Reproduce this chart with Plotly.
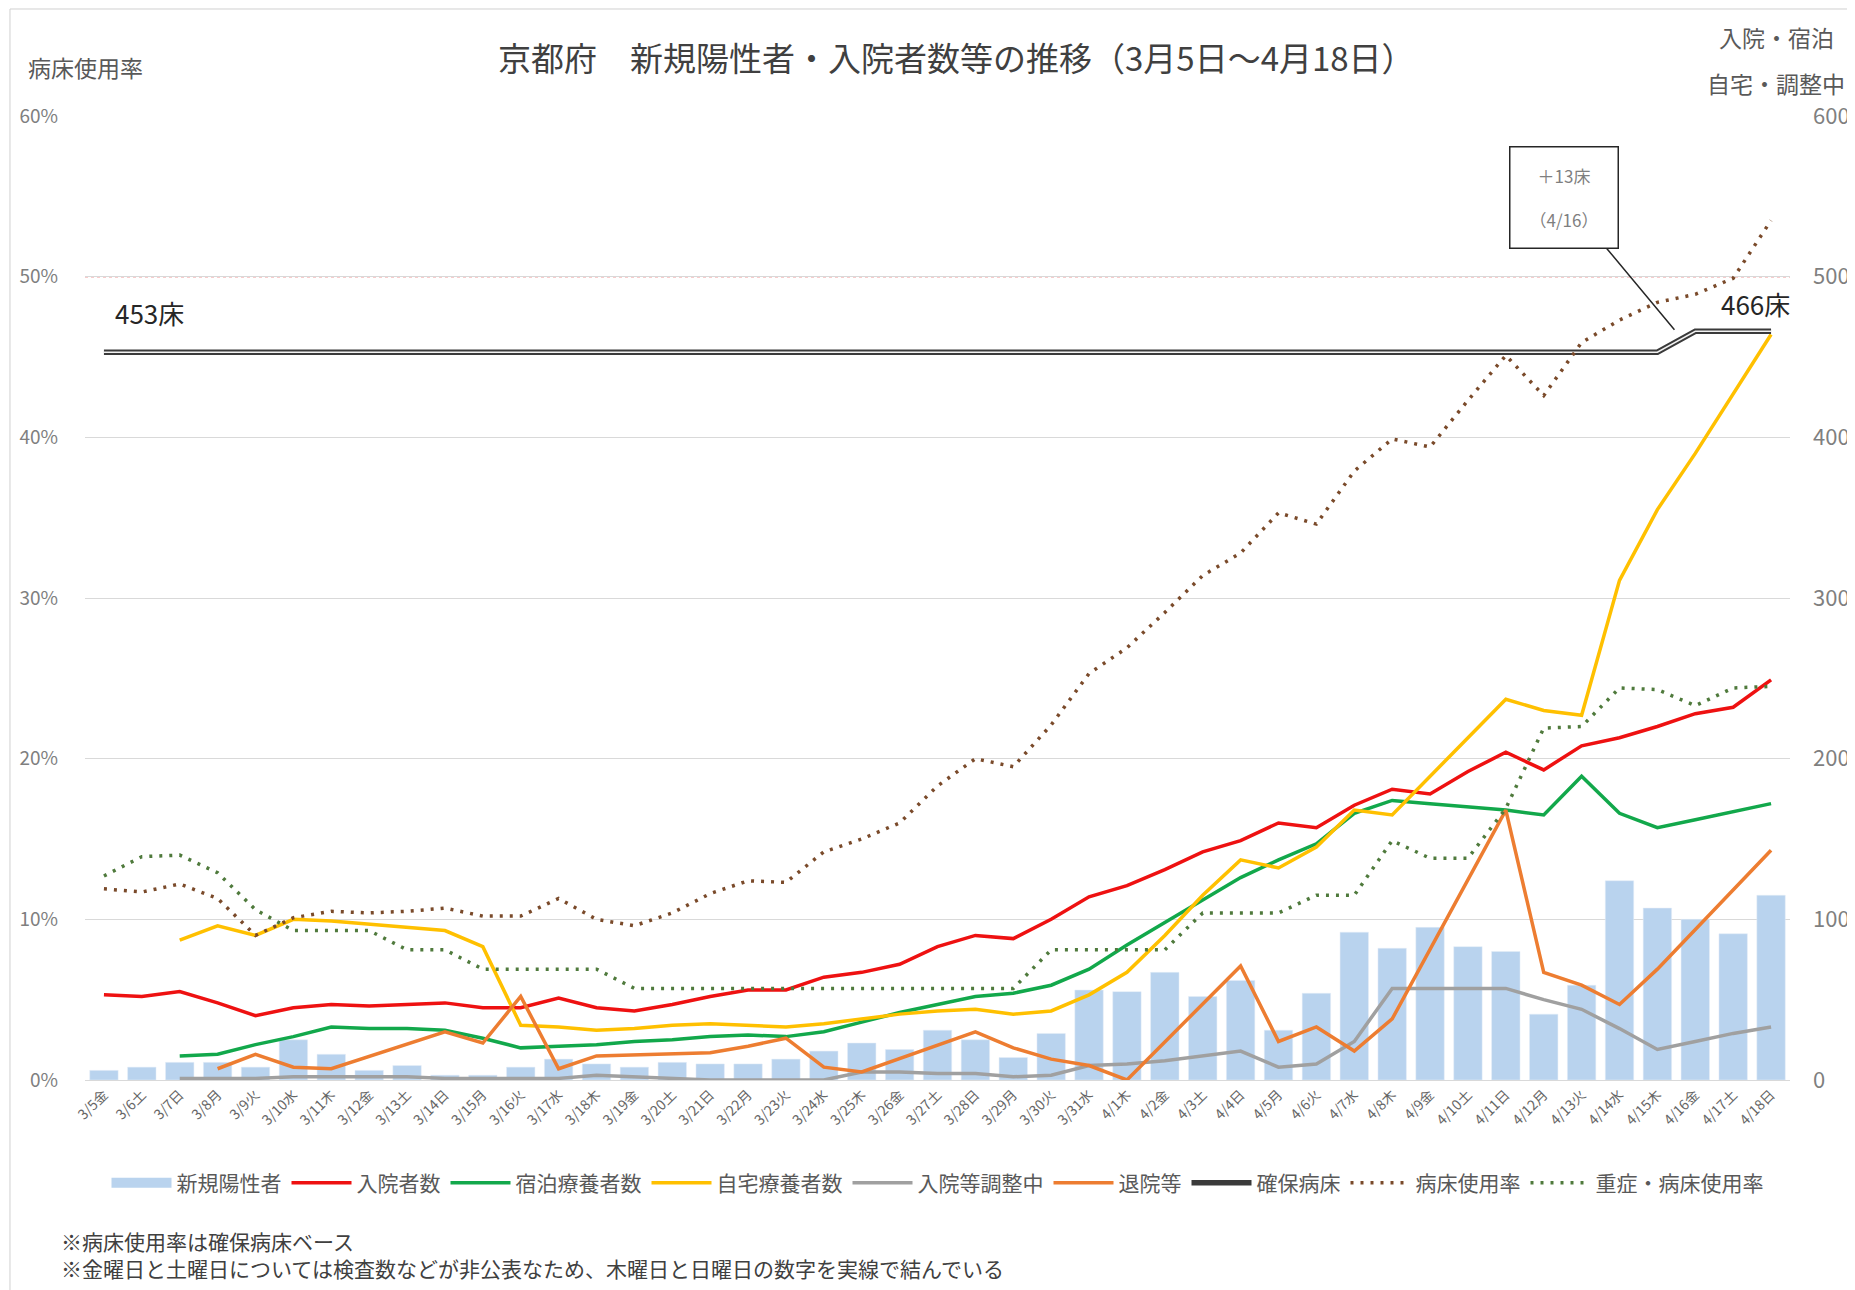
import plotly.graph_objects as go

FONT = "Noto Sans CJK JP"

# 日付ラベル (3/5 ~ 4/18)
days = ["3/5金", "3/6土", "3/7日", "3/8月", "3/9火", "3/10水", "3/11木", "3/12金",
        "3/13土", "3/14日", "3/15月", "3/16火", "3/17水", "3/18木", "3/19金", "3/20土",
        "3/21日", "3/22月", "3/23火", "3/24水", "3/25木", "3/26金", "3/27土", "3/28日",
        "3/29月", "3/30火", "3/31水", "4/1木", "4/2金", "4/3土", "4/4日", "4/5月",
        "4/6火", "4/7水", "4/8木", "4/9金", "4/10土", "4/11日", "4/12月", "4/13火",
        "4/14水", "4/15木", "4/16金", "4/17土", "4/18日"]

new_cases = [6, 8, 11, 11, 8, 25, 16, 6, 9, 3, 3, 8, 13, 10, 8, 11,
             10, 10, 13, 18, 23, 19, 31, 25, 14, 29, 56, 55, 67, 52, 62, 31,
             54, 92, 82, 95, 83, 80, 41, 59, 124, 107, 100, 91, 115]

hospitalized = [53, 52, 55, 48, 40, 45, 47, 46, 47, 48, 45, 45, 51, 45, 43, 47,
                52, 56, 56, 64, 67, 72, 83, 90, 88, 100, 114, 121, 131, 142, 149, 160,
                157, 171, 181, 178, 192, 204, 193, 208, 213, 220, 228, 232, 249]

hotel = [None, None, 15, 16, 22, 27, 33, 32, 32, 31, 26, 20, 21, 22, 24, 25,
         27, 28, 27, 30, 36, 42, 47, 52, 54, 59, 69, 84, 98, 112, 126, 137,
         147, 166, 174, 172, 170, 168, 165, 189, 166, 157, 162, 167, 172]

home = [None, None, 87, 96, 90, 100, 99, 97, 95, 93, 83, 34, 33, 31, 32, 34,
        35, 34, 33, 35, 38, 41, 43, 44, 41, 43, 53, 67, 90, 115, 137, 132,
        145, 168, 165, 189, 213, 237, 230, 227, 311, 355, 390, 427, 464]

adjusting = [None, None, 1, 1, 1, 2, 2, 2, 2, 1, 1, 1, 1, 3, 2, 1,
             0, 0, 0, 0, 5, 5, 4, 4, 2, 3, 9, 10, 12, 15, 18, 8,
             10, 24, 57, 57, 57, 57, 50, 44, 32, 19, 24, 29, 33]

# 金・土は非公表 (木と日を実線で結ぶ)
discharged = [None, None, None, 7, 16, 8, 7, None, None, 30, 23, 52, 7, 15, None, None,
              17, 21, 26, 8, 5, None, None, 30, 20, 13, 9, 0, None, None, 71, 24,
              33, 18, 38, None, None, 168, 67, 59, 47, 69, None, None, 143]

beds = [453, 453, 453, 453, 453, 453, 453, 453, 453, 453, 453, 453, 453, 453, 453, 453,
        453, 453, 453, 453, 453, 453, 453, 453, 453, 453, 453, 453, 453, 453, 453, 453,
        453, 453, 453, 453, 453, 453, 453, 453, 453, 453, 466, 466, 466]

bed_rate = [11.9, 11.7, 12.2, 11.3, 9.0, 10.1, 10.5, 10.4, 10.5, 10.7, 10.2, 10.2, 11.3, 10.0, 9.6, 10.4,
            11.6, 12.4, 12.3, 14.2, 15.0, 16.0, 18.3, 20.0, 19.5, 22.1, 25.3, 26.9, 29.1, 31.4, 32.8, 35.3,
            34.6, 37.9, 39.9, 39.4, 42.3, 45.1, 42.6, 45.9, 47.3, 48.4, 48.9, 49.9, 53.5]

severe_rate = [12.7, 13.9, 14.0, 12.9, 10.6, 9.3, 9.3, 9.3, 8.1, 8.1, 6.9, 6.9, 6.9, 6.9, 5.7, 5.7,
               5.7, 5.7, 5.7, 5.7, 5.7, 5.7, 5.7, 5.7, 5.7, 8.1, 8.1, 8.1, 8.1, 10.4, 10.4, 10.4,
               11.5, 11.5, 14.9, 13.8, 13.8, 16.9, 21.9, 22.0, 24.4, 24.3, 23.3, 24.4, 24.5]

threshold_rate = 50

BAR_COLOR = "#B9D3EE"

fig = go.Figure()

fig.add_trace(go.Bar(x=days, y=new_cases, name="新規陽性者", marker_color=BAR_COLOR,
                     showlegend=False))
# 凡例用 (太い帯で表示)
fig.add_trace(go.Scatter(x=[None], y=[None], name="新規陽性者", mode="lines",
                         line=dict(color=BAR_COLOR, width=14)))

lines = [
    ("入院者数", hospitalized, "#EE1111"),
    ("宿泊療養者数", hotel, "#12A84B"),
    ("自宅療養者数", home, "#FFC000"),
    ("入院等調整中", adjusting, "#A0A0A0"),
    ("退院等", discharged, "#ED7D31"),
]
for name, vals, color in lines:
    fig.add_trace(go.Scatter(x=days, y=vals, name=name, mode="lines", connectgaps=True,
                             line=dict(color=color, width=3.5)))

# 確保病床 (二重線)
fig.add_trace(go.Scatter(x=days, y=beds, name="確保病床", mode="lines",
                         line=dict(color="#3A3A3A", width=5.5)))
fig.add_trace(go.Scatter(x=days, y=beds, mode="lines", showlegend=False, hoverinfo="skip",
                         line=dict(color="#F2F2F2", width=1.5)))

fig.add_trace(go.Scatter(x=days, y=bed_rate, name="病床使用率", mode="lines", yaxis="y2",
                         line=dict(color="#7A4A2A", width=3.5, dash="3px,7px")))
fig.add_trace(go.Scatter(x=days, y=severe_rate, name="重症・病床使用率", mode="lines", yaxis="y2",
                         line=dict(color="#4F7A3C", width=3.5, dash="3px,7px")))

fig.add_shape(type="line", xref="x domain", yref="y2", x0=0, x1=1,
              y0=threshold_rate, y1=threshold_rate, layer="below",
              line=dict(color="#F29A9A", width=1.5, dash="dot"))

# 外枠
fig.add_shape(type="rect", xref="paper", yref="paper", x0=-0.044, x1=1.05, y0=-0.23, y1=1.111,
              line=dict(color="#D0D0D0", width=1))

fig.update_layout(
    width=1855, height=1290,
    margin=dict(l=77, r=73, t=108, b=218),
    plot_bgcolor="white", paper_bgcolor="white",
    font=dict(family=FONT, color="#595959"),
    bargap=0.25,
    xaxis=dict(tickangle=-45, tickfont=dict(size=14, color="#666666"), showgrid=False,
               showline=True, linecolor="#D9D9D9", ticks="", range=[-0.5, len(days) - 0.5]),
    yaxis=dict(side="right", range=[0, 600], dtick=100, showgrid=True, gridcolor="#D9D9D9",
               zeroline=False, tickfont=dict(size=22, color="#7F7F7F"), ticklabelstandoff=22),
    yaxis2=dict(overlaying="y", side="left", range=[0, 60], dtick=10, ticksuffix="%",
                showgrid=False, zeroline=False, tickfont=dict(size=19, color="#7F7F7F"),
                ticklabelstandoff=26),
    legend=dict(orientation="h", x=0.5, xanchor="center", y=-0.107, yanchor="middle",
                font=dict(size=21, color="#595959"), itemwidth=60),
    showlegend=True,
)

annots = [
    dict(text="京都府　新規陽性者・入院者数等の推移（3月5日～4月18日）", x=0.511, y=1.061,
         font=dict(size=33, color="#404040")),
    dict(text="病床使用率", x=-0.0346, y=1.051, xanchor="left", font=dict(size=23, color="#595959")),
    dict(text="入院・宿泊", x=0.992, y=1.082, font=dict(size=23, color="#595959")),
    dict(text="自宅・調整中", x=0.992, y=1.034, font=dict(size=23, color="#595959")),
    dict(text="453床", x=0.038, y=0.796, font=dict(size=26, color="#262626")),
    dict(text="466床", x=0.980, y=0.806, font=dict(size=26, color="#262626")),
    dict(text="※病床使用率は確保病床ベース<br>"
              "※金曜日と土曜日については検査数などが非公表なため、木曜日と日曜日の数字を実線で結んでいる",
         x=-0.015, y=-0.181, xanchor="left", align="left",
         font=dict(size=21, color="#404040")),
]
for a in annots:
    a.setdefault("xanchor", "center")
    fig.add_annotation(xref="paper", yref="paper", yanchor="middle", showarrow=False, **a)

fig.add_annotation(x=41.45, y=467, xref="x", yref="y", text="＋13床<br><br>（4/16）",
                   showarrow=True, arrowhead=0, arrowwidth=1.5, arrowcolor="#262626",
                   ax=-110, ay=-132, bgcolor="white", bordercolor="#262626", borderwidth=1.5,
                   width=95, height=88, borderpad=6, font=dict(size=17, color="#7F7F7F"))

fig.write_html("out.html")
